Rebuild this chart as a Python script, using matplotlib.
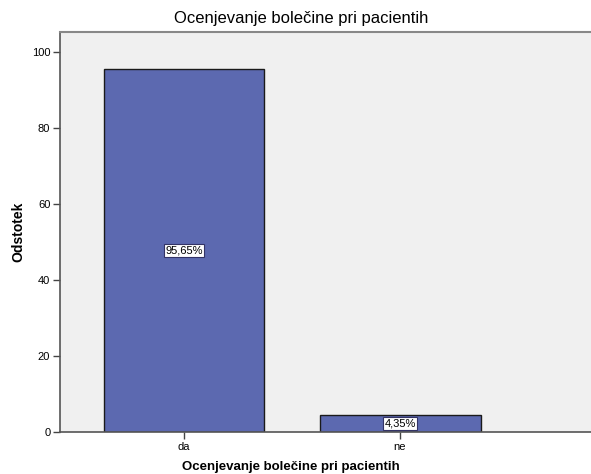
import matplotlib
matplotlib.use("Agg")
import matplotlib.pyplot as plt

categories = ["da", "ne"]
percentages = [95.65, 4.35]
bar_labels = ["95,65%", "4,35%"]
y_ticks = [0, 20, 40, 60, 80, 100]

title = "Ocenjevanje bolečine pri pacientih"

plt.rcParams["font.family"] = ["Liberation Sans", "DejaVu Sans"]

fig = plt.figure(figsize=(5.91, 4.74), dpi=100)
# plot area: x 60..591, y 32..432 in pixels
ax = fig.add_axes([60 / 591, 1 - 432 / 474, 531 / 591, 400 / 474])
ax.set_facecolor("#F0F0F0")

x = list(range(len(categories)))
ax.bar(x, percentages, width=0.745, color="#5C69B0", edgecolor="#1a1a1a",
       linewidth=1.0, zorder=2)

for xi, val, lab in zip(x, percentages, bar_labels):
    ax.text(xi, val / 2, lab, ha="center", va="center", fontsize=8, zorder=3,
            bbox=dict(boxstyle="square,pad=0.15", facecolor="white",
                      edgecolor="#333366", linewidth=0.8))

ax.set_xlim(-0.574, 1.884)
ax.set_ylim(0, 105.3)
ax.set_xticks(x)
ax.set_xticklabels(categories, fontsize=8)
ax.set_yticks(y_ticks)
ax.set_yticklabels([str(t) for t in y_ticks], fontsize=8)
ax.tick_params(axis="both", length=5, width=1, color="#444444", pad=2)

ax.spines["right"].set_visible(False)
ax.spines["top"].set_color("#888888")
ax.spines["top"].set_linewidth(1.5)
ax.spines["left"].set_color("#555555")
ax.spines["left"].set_linewidth(1.2)
ax.spines["bottom"].set_color("#555555")
ax.spines["bottom"].set_linewidth(1.2)

fig.text(301 / 591, 1 - 18 / 474, title, ha="center", va="center", fontsize=12)
fig.text(18 / 591, 1 - 232 / 474, "Odstotek", ha="center", va="center",
         rotation=90, fontsize=10, fontweight="bold")
fig.text(291 / 591, 1 - 467 / 474, title, ha="center", va="center",
         fontsize=9.5, fontweight="bold")

fig.savefig("out.png", dpi=100)
